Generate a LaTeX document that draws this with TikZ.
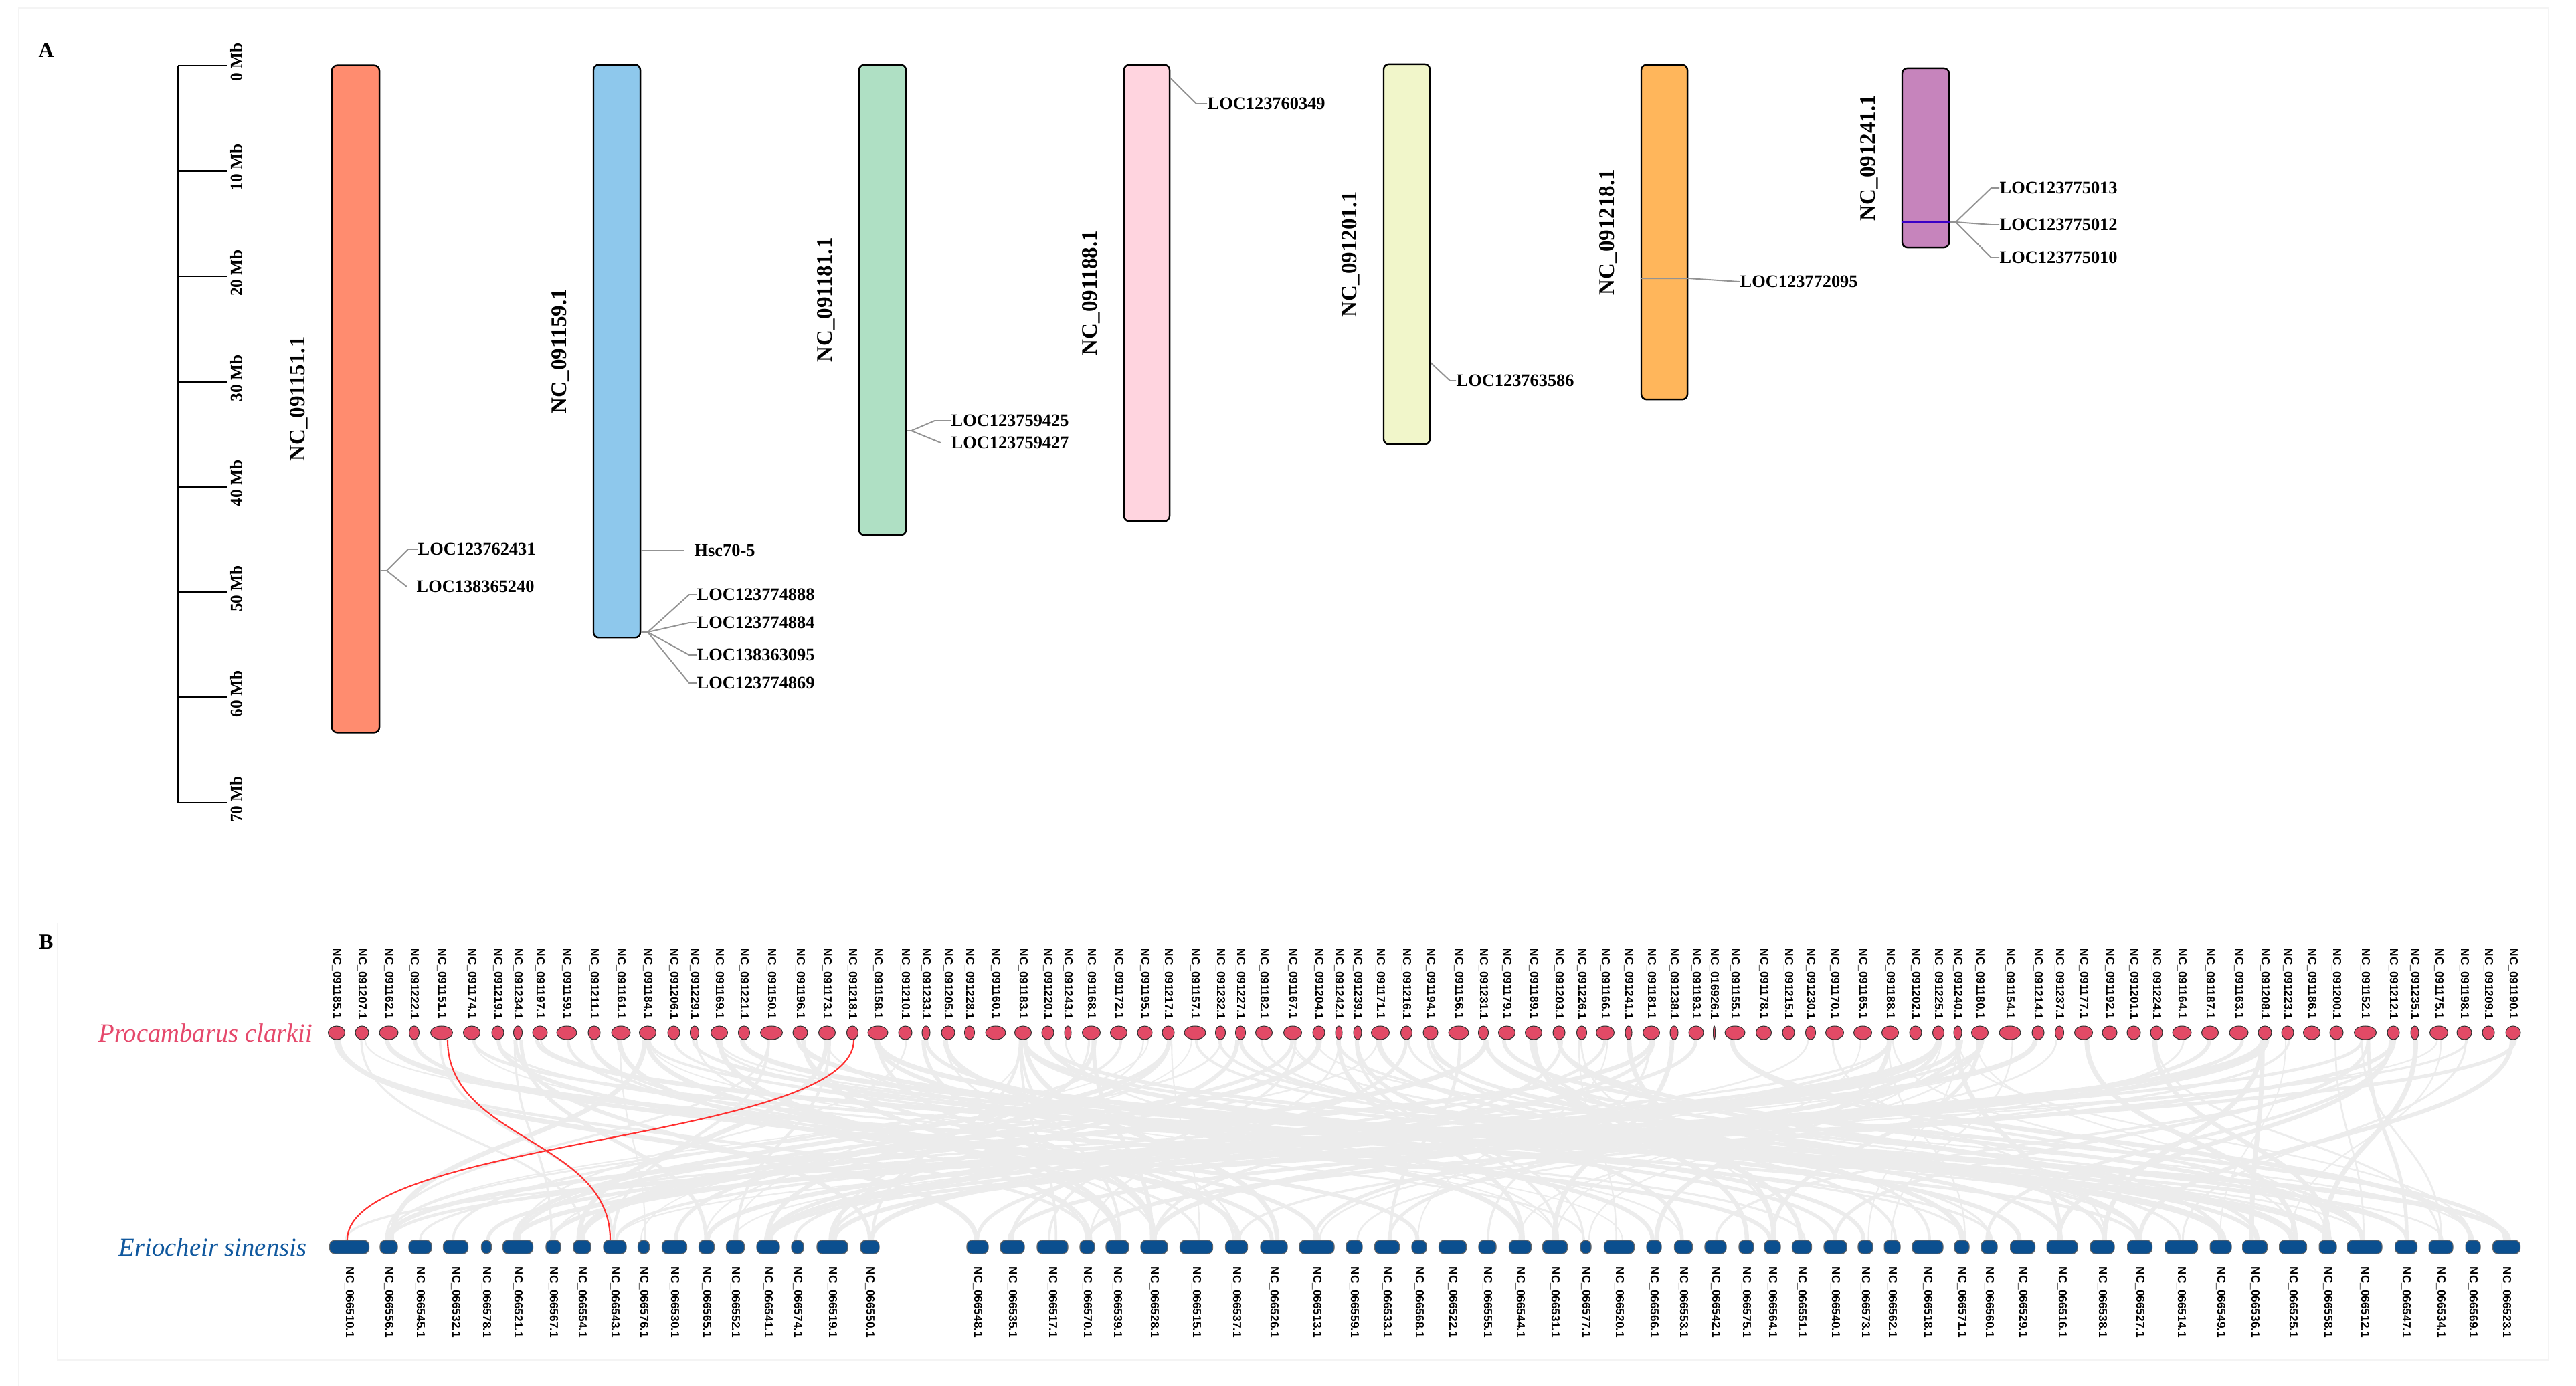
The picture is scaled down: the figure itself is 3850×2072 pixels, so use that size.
\documentclass[tikz,border=0pt]{standalone}
\usepackage{fontspec}
\setmainfont{Liberation Serif}
\newfontfamily\idsans{Liberation Sans}
\usetikzlibrary{positioning, backgrounds, shapes.geometric}

\definecolor{c151}{HTML}{FF8C6F}
\definecolor{c159}{HTML}{8EC8EC}
\definecolor{c181}{HTML}{AFE0C4}
\definecolor{c188}{HTML}{FFD4DF}
\definecolor{c201}{HTML}{F1F6CA}
\definecolor{c218}{HTML}{FFB65B}
\definecolor{c241}{HTML}{C684BC}
\definecolor{pcred}{HTML}{E24A66}
\definecolor{esblue}{HTML}{0B4F8F}
\definecolor{pctext}{HTML}{E5486B}
\definecolor{estext}{HTML}{10589E}
\definecolor{linkgray}{RGB}{236,236,236}
\definecolor{linkred}{HTML}{FF3030}
\definecolor{framegray}{RGB}{244,244,244}

\begin{document}
\begin{tikzpicture}[x=0.01cm, y=-0.01cm,
  chrbar/.style={draw=black, line width=0.7pt, rounded corners=2.2pt, inner sep=0pt},
  chrname/.style={rotate=90, inner sep=0pt, font=\fontsize{9.4}{10}\selectfont\bfseries},
  locline/.style={draw=gray!85, line width=0.55pt},
  loctext/.style={anchor=west, inner sep=0pt, font=\fontsize{7.5}{8}\selectfont\bfseries},
  ruler/.style={draw=black, line width=0.7pt},
  mbtext/.style={rotate=90, inner sep=0pt, font=\fontsize{7.2}{8}\selectfont\bfseries},
  panel/.style={inner sep=0pt, font=\fontsize{9}{10}\selectfont\bfseries},
  pcl/.style={ellipse, draw=black!80, line width=0.3pt, fill=pcred, inner sep=0pt, minimum height=0.2cm},
  esi/.style={rectangle, rounded corners=2.2pt, draw=black!60, line width=0.3pt, fill=esblue, inner sep=0pt, minimum height=0.2cm},
  idtext/.style={rotate=-90, anchor=west, inner sep=0pt, font=\idsans\bfseries\fontsize{4.9}{5}\selectfont},
  species/.style={inner sep=0pt, font=\fontsize{11}{12}\selectfont\itshape},
  link/.style={draw=linkgray},
  hilite/.style={draw=linkred, line width=0.6pt}]
\useasboundingbox (0,0) rectangle (3850,2072);

% faint frames
\draw[framegray, line width=0.5pt] (28,2072) -- (28,12) -- (3809,12) -- (3809,2033) -- (86,2033) -- (86,1380);

% panel A
\node[panel] (pA) at (69,75) {A};

% scale
\draw[ruler] (266,98) -- (266,1200);
\foreach \k in {0,...,7}{
  \pgfmathsetmacro{\ty}{98+157.43*\k}
  \pgfmathtruncatemacro{\mb}{10*\k}
  \draw[ruler] (266,\ty) -- (340,\ty);
  \node[mbtext] (mb\k) at (353,\ty-5) {\mb\ Mb};
}

% chromosomes
\node[chrbar, fill=c151, minimum width=0.71cm, minimum height=9.97cm] (nc151) at (531.5,596.5) {};
\node[chrbar, fill=c159, minimum width=0.70cm, minimum height=8.56cm] (nc159) at (922,525) {};
\node[chrbar, fill=c181, minimum width=0.70cm, minimum height=7.03cm] (nc181) at (1319,448.5) {};
\node[chrbar, fill=c188, minimum width=0.68cm, minimum height=6.82cm] (nc188) at (1714,438) {};
\node[chrbar, fill=c201, minimum width=0.69cm, minimum height=5.68cm] (nc201) at (2102.5,380) {};
\node[chrbar, fill=c218, minimum width=0.69cm, minimum height=5.00cm] (nc218) at (2487.5,347) {};
\node[chrbar, fill=c241, minimum width=0.70cm, minimum height=2.68cm] (nc241) at (2878,236) {};

\node[chrname] (n151) at ([xshift=-0.48cm]nc151.west) {NC\_091151.1};
\node[chrname] (n159) at ([xshift=-0.48cm]nc159.west) {NC\_091159.1};
\node[chrname] (n181) at ([xshift=-0.48cm]nc181.west) {NC\_091181.1};
\node[chrname] (n188) at ([xshift=-0.48cm]nc188.west) {NC\_091188.1};
\node[chrname] (n201) at ([xshift=-0.48cm]nc201.west) {NC\_091201.1};
\node[chrname] (n218) at ([xshift=-0.48cm]nc218.west) {NC\_091218.1};
\node[chrname] (n241) at ([xshift=-0.48cm]nc241.west) {NC\_091241.1};

% gene labels
\coordinate (f151) at (578,853);
\node[loctext] (l2431) at (624,821) {LOC123762431};
\node[loctext] (l5240) at (622,877) {LOC138365240};
\draw[locline] (nc151.east |- f151) -- (f151) -- ([xshift=-0.14cm]l2431.west) -- (l2431.west);
\draw[locline] (f151) -- ([xshift=-0.14cm]l5240.west);

\node[loctext] (l705) at (1037,823) {Hsc70-5};
\draw[locline] (nc159.east |- l705) -- ([xshift=-0.15cm]l705.west);
\coordinate (f159) at (968,945);
\node[loctext] (l4888) at (1041,889) {LOC123774888};
\node[loctext] (l4884) at (1041,931) {LOC123774884};
\node[loctext] (l3095) at (1041,979) {LOC138363095};
\node[loctext] (l4869) at (1041,1021) {LOC123774869};
\draw[locline] (nc159.east |- f159) -- (f159);
\foreach \g in {l4888,l4884,l3095,l4869}
  \draw[locline] (f159) -- ([xshift=-0.11cm]\g.west) -- (\g.west);

\coordinate (f181) at (1362,644);
\node[loctext] (l9425) at (1421,629) {LOC123759425};
\node[loctext] (l9427) at (1421,662) {LOC123759427};
\draw[locline] (nc181.east |- f181) -- (f181) -- ([xshift=-0.24cm]l9425.west) -- (l9425.west);
\draw[locline] (f181) -- ([xshift=-0.15cm]l9427.west);

\node[loctext] (l0349) at (1804,155) {LOC123760349};
\draw[locline] ([yshift=-0.21cm]nc188.north east) -- ([xshift=-0.16cm]l0349.west) -- (l0349.west);

\node[loctext] (l3586) at (2176,569) {LOC123763586};
\draw[locline] ([yshift=-1.62cm]nc201.east) -- ([xshift=-0.09cm]l3586.west) -- (l3586.west);

\node[loctext] (l2095) at (2600,421) {LOC123772095};
\draw[locline] ([yshift=-0.69cm]nc218.west) -- ([yshift=-0.69cm]nc218.east) -- (l2095.west);

\coordinate (f241) at (2923,332);
\node[loctext] (l5013) at (2988,281) {LOC123775013};
\node[loctext] (l5012) at (2988,336) {LOC123775012};
\node[loctext] (l5010) at (2988,385) {LOC123775010};
\draw[draw=blue!55!violet, line width=0.5pt] ([yshift=-0.96cm]nc241.west) -- ([yshift=-0.96cm]nc241.east);
\draw[locline] ([yshift=-0.96cm]nc241.east) -- (f241);
\foreach \g in {l5013,l5012,l5010}
  \draw[locline] (f241) -- ([xshift=-0.12cm]\g.west) -- (\g.west);

% panel B
\node[panel] (pB) at (69,1408) {B};

% Procambarus clarkii chromosomes
\foreach \x/\w/\id [count=\i] in {
  503/25/091185, 541/20/091207, 581/28/091162, 619/15/091222, 660/33/091151,
  705/25/091174, 744/18/091219, 774/13/091234, 807/22/091197, 847/30/091159,
  888/18/091211, 928/28/091161, 968/25/091184, 1007/18/091206, 1038/13/091229,
  1075/25/091169, 1112/17/091221, 1153/33/091150, 1196/22/091196, 1236/25/091173,
  1274/17/091218, 1312/30/091158, 1353/20/091210, 1384/12/091233, 1417/20/091205,
  1449/15/091228, 1488/30/091160, 1529/25/091183, 1566/18/091220, 1596/10/091243,
  1631/27/091168, 1672/25/091172, 1711/22/091195, 1746/18/091217, 1786/32/091157,
  1824/15/091232, 1854/15/091227, 1889/25/091182, 1932/27/091167, 1971/18/091204,
  2001/10/091242, 2029/12/091239, 2063/27/091171, 2102/17/091216, 2138/22/091194,
  2180/30/091156, 2217/15/091231, 2252/25/091179, 2292/25/091189, 2330/18/091203,
  2364/15/091226, 2399/27/091166, 2434/10/091241, 2468/25/091181, 2502/12/091238,
  2535/22/091193, 2562/3/016926, 2593/30/091155, 2636/23/091178, 2673/18/091215,
  2706/15/091230, 2742/27/091170, 2784/27/091165, 2825/25/091188, 2863/18/091202,
  2897/17/091225, 2926/12/091240, 2959/25/091180, 3004/32/091154, 3046/18/091214,
  3078/13/091237, 3114/27/091177, 3153/22/091192, 3189/20/091201, 3223/18/091224,
  3261/28/091164, 3303/25/091187, 3346/28/091163, 3385/20/091208, 3419/18/091223,
  3455/25/091186, 3492/20/091200, 3535/33/091152, 3577/18/091212, 3609/12/091235,
  3645/27/091175, 3683/22/091198, 3719/18/091209, 3756/22/091190}{
  \node[pcl, minimum width=\w*0.01cm] (pc\i) at (\x,1544) {};
  \node[idtext] (pcn\i) at (\x,1417) {NC\_\id.1};
}

% Eriocheir sinensis chromosomes
\foreach \x/\w/\id [count=\i] in {
  522/59/066510, 581/26/066556, 628/34/066545, 681/37/066532, 727/15/066578,
  774/45/066521, 827/22/066567, 870/26/066554, 919/34/066543, 962/17/066576,
  1008/37/066530, 1056/23/066565, 1099/27/066552, 1148/34/066541, 1192/18/066574,
  1244/46/066519, 1300/28/066550, 1461/32/066548, 1513/36/066535, 1573/46/066517,
  1625/22/066570, 1670/34/066539, 1725/40/066528, 1788/49/066515, 1848/33/066537,
  1904/40/066526, 1968/52/066513, 2024/24/066559, 2073/37/066533, 2121/22/066568,
  2171/41/066522, 2223/26/066555, 2272/33/066544, 2324/37/066531, 2370/16/066577,
  2420/45/066520, 2472/22/066566, 2516/27/066553, 2564/32/066542, 2610/22/066575,
  2649/24/066564, 2693/29/066551, 2743/34/066540, 2788/22/066573, 2828/24/066562,
  2881/46/066518, 2932/22/066571, 2973/24/066560, 3023/37/066529, 3082/46/066516,
  3142/36/066538, 3198/37/066527, 3260/49/066514, 3319/32/066549, 3370/37/066536,
  3427/41/066525, 3479/26/066558, 3534/52/066512, 3596/33/066547, 3648/36/066534,
  3696/22/066569, 3746/41/066523}{
  \node[esi, minimum width=\w*0.01cm] (es\i) at (\x,1864) {};
  \node[idtext] (esn\i) at (\x,1893) {NC\_\id.1};
}

\node[species, text=pctext, left=0.22cm of pc1] (pcname) {Procambarus clarkii};
\node[species, text=estext, left=0.33cm of es1] (esname) {Eriocheir sinensis};

% syntenic links
\begin{pgfonlayer}{background}
  \pgfmathsetseed{20}
  \foreach \k in {1,...,180}{
    \pgfmathrandominteger{\a}{1}{89}
    \pgfmathrandominteger{\b}{1}{62}
    \pgfmathsetmacro{\lw}{0.5+1.6*rnd}
    \pgfmathsetmacro{\da}{(rnd-0.5)*3}
    \pgfmathsetmacro{\db}{(rnd-0.5)*3}
    \draw[link, line width=\lw pt] ([xshift=\da pt]pc\a.south) .. controls +(0,150) and +(0,-150) .. ([xshift=\db pt]es\b.north);
  }
\end{pgfonlayer}

% Hsp70 links
\draw[hilite] ([xshift=0.09cm]pc5.south) .. controls +(0,150) and +(0,-150) .. ([xshift=-0.07cm]es9.north);
\draw[hilite] ([xshift=0.02cm]pc21.south) .. controls +(0,150) and +(0,-150) .. ([xshift=-0.03cm]es1.north);
\end{tikzpicture}
\end{document}
